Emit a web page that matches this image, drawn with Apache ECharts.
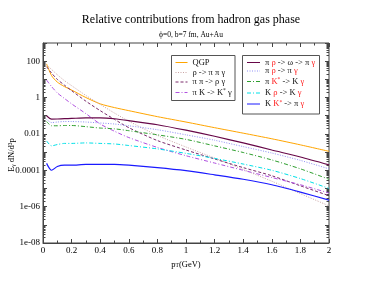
<!DOCTYPE html>
<html><head><meta charset="utf-8">
<script src="https://cdn.jsdelivr.net/npm/echarts@6/dist/echarts.min.js"></script>
<style>html,body{margin:0;padding:0;background:#fff}#c{width:371px;height:286px}</style>
</head><body><div id="c"></div>
<script>
// transverse momentum (GeV)
const pT = [0.025, 0.06, 0.1, 0.15, 0.2, 0.3, 0.4, 0.5, 0.6, 0.8, 1.0, 1.2, 1.4, 1.6, 1.8, 2.0];
// E dN/d^3p per channel
const qgp      = [71, 16, 7.1, 4.0, 2.6, 1.0, 0.45, 0.28, 0.19, 0.089, 0.045, 0.022, 0.011, 0.0054, 0.0025, 0.0011];
const rhoPiPi  = [63, 35, 18, 8.5, 4.5, 1.3, 0.42, 0.14, 0.05, 0.0083, 0.0019, 0.00047, 0.00011, 0.000025, 0.0000052, 0.0000011];
const piPiRho  = [50, 22, 10, 4.8, 2.4, 0.63, 0.19, 0.063, 0.022, 0.0043, 0.0013, 0.00042, 0.00014, 0.00005, 0.000014, 0.000004];
const piKKs    = [9.1, 4.0, 1.8, 0.89, 0.45, 0.13, 0.035, 0.014, 0.0063, 0.0018, 0.00063, 0.00025, 0.0001, 0.00004, 0.000016, 0.0000056];
const piRhoOm  = [0.10, 0.065, 0.066, 0.069, 0.071, 0.076, 0.076, 0.068, 0.054, 0.032, 0.016, 0.0074, 0.0032, 0.0013, 0.00054, 0.0002];
const piRhoPi  = [0.063, 0.042, 0.045, 0.048, 0.048, 0.045, 0.040, 0.035, 0.028, 0.017, 0.0089, 0.0045, 0.002, 0.00089, 0.00035, 0.00012];
const piKsK    = [0.048, 0.028, 0.028, 0.029, 0.029, 0.025, 0.021, 0.019, 0.015, 0.0089, 0.005, 0.0022, 0.00095, 0.00037, 0.00012, 0.000032];
const kRhoK    = [0.0041, 0.0022, 0.0026, 0.003, 0.003, 0.0032, 0.003, 0.0028, 0.0023, 0.0015, 0.00085, 0.00045, 0.00022, 0.0001, 0.000035, 0.00001];
const kKsPi    = [0.00024, 0.0001, 0.00016, 0.00019, 0.00019, 0.00021, 0.00021, 0.00021, 0.00019, 0.00014, 0.000095, 0.000056, 0.000032, 0.000016, 0.0000063, 0.0000023];

const seriesNames = ['QGP', 'ρ -> π π γ', 'π π -> ρ γ', 'π K -> K* γ',
  'π ρ -> ω -> π γ', 'π ρ -> π γ', 'π K* -> K γ', 'K ρ -> K γ', 'K K* -> π γ'];
const seriesData = [qgp, rhoPiPi, piPiRho, piKKs, piRhoOm, piRhoPi, piKsK, kRhoK, kKsPi];
const legendRich = {
  'QGP': 'QGP',
  'ρ -> π π γ': 'ρ -> π π γ',
  'π π -> ρ γ': 'π π -> ρ γ',
  'π K -> K* γ': 'π K -> K{sup|*} γ',
  'π ρ -> ω -> π γ': 'π {r|ρ} -> ω -> π {r|γ}',
  'π ρ -> π γ': 'π {r|ρ} -> π {r|γ}',
  'π K* -> K γ': 'π {r|K}{rs|*} -> K {r|γ}',
  'K ρ -> K γ': 'K {r|ρ} -> K {r|γ}',
  'K K* -> π γ': 'K {r|K}{rs|*} -> π {r|γ}'
};
const yLabelValues = [1e-8, 1e-6, 1e-4, 1e-2, 1, 100];
const yTickLabels = ['1e-08', '1e-06', '0.0001', '0.01', '1', '100'];

const styles = [
  {color: '#ffa500', type: 'solid', width: 1},
  {color: '#c9a3a3', type: [1, 1.5], width: 1},
  {color: '#7a2a6a', type: [3, 2], width: 1},
  {color: '#b050e0', type: [4, 2, 1, 2], width: 1},
  {color: '#670748', type: 'solid', width: 1.2},
  {color: '#8f8ff5', type: [1, 1.5], width: 1},
  {color: '#2f9f2f', type: [4, 2, 1, 2], width: 1},
  {color: '#00e0e8', type: [4, 2, 1, 2], width: 1},
  {color: '#1a1aff', type: 'solid', width: 1.2}
];

const majorY = [], minorY = [];
for (let e = -8; e <= 3; e++) {
  majorY.push(Math.pow(10, e));
  if (e < 3) for (let m = 2; m <= 9; m++) minorY.push(m * Math.pow(10, e));
}

const FONT = 'Liberation Serif';
const axisCol = '#444';
const series = seriesNames.map((n, i) => ({
  name: n, type: 'line', data: pT.map((x, j) => [x, seriesData[i][j]]),
  showSymbol: false, symbol: 'none', smooth: 0.25, lineStyle: styles[i],
  itemStyle: {color: styles[i].color}, silent: true, z: 3
}));

const legPos = [
  [175, 58], [175, 68], [175, 77.5], [175, 88],
  [246.5, 58], [246.5, 66.5], [246.5, 77], [246.5, 88.5], [246.5, 99.5]
];
const legends = seriesNames.map((n, i) => ({
  data: [n], left: legPos[i][0], top: legPos[i][1], padding: 0,
  itemWidth: i < 4 ? 12 : 13, itemHeight: 8, selectedMode: false,
  itemStyle: {opacity: 0, borderWidth: 0},
  lineStyle: {width: 1},
  formatter: (name) => legendRich[name],
  textStyle: {fontFamily: FONT, fontSize: 8.5, color: '#111',
    rich: {
      r: {fontFamily: FONT, fontSize: 8.5, color: '#ff2020'},
      sup: {fontFamily: FONT, fontSize: 5.5, color: '#111', verticalAlign: 'top'},
      rs: {fontFamily: FONT, fontSize: 5.5, color: '#ff2020', verticalAlign: 'top'}
    }}
}));

const chart = echarts.init(document.getElementById('c'), null, {renderer: 'canvas'});
chart.setOption({
  animation: false,
  backgroundColor: '#fff',
  title: [
    {text: 'Relative contributions from hadron gas phase', left: 186, top: 9, textAlign: 'center',
     textStyle: {fontFamily: FONT, fontSize: 12, fontWeight: 'normal', color: '#000'}},
    {text: 'ϕ=0, b=7 fm, Au+Au', left: 186, top: 26, textAlign: 'center',
     textStyle: {fontFamily: FONT, fontSize: 7.5, fontWeight: 'normal', color: '#000'}}
  ],
  grid: {left: 43, right: 42, top: 43, bottom: 43, show: true, borderColor: axisCol, borderWidth: 1},
  legend: legends,
  xAxis: [
    {type: 'value', min: 0, max: 2, interval: 0.2, position: 'bottom',
     axisLine: {show: true, lineStyle: {color: axisCol, width: 1}},
     axisTick: {inside: true, length: 4, lineStyle: {color: axisCol}},
     minorTick: {show: true, splitNumber: 2, length: 2.5, lineStyle: {color: axisCol}},
     axisLabel: {fontFamily: FONT, fontSize: 9, color: '#000', margin: 3},
     splitLine: {show: false},
     name: 'p{s|T}(GeV)', nameLocation: 'middle', nameGap: 8,
     nameTextStyle: {fontFamily: FONT, fontSize: 8.5, color: '#000',
       rich: {s: {fontFamily: FONT, fontSize: 5.5, color: '#000', verticalAlign: 'bottom', padding: [3, 0, 0, 0]}}}},
    {type: 'value', min: 0, max: 2, interval: 0.2, position: 'top',
     axisLine: {show: false},
     axisTick: {inside: true, length: 4, lineStyle: {color: axisCol}},
     minorTick: {show: true, splitNumber: 2, length: 2.5, lineStyle: {color: axisCol}},
     axisLabel: {show: false}, splitLine: {show: false}}
  ],
  yAxis: [
    {type: 'log', logBase: 10, min: 1e-8, max: 1000, position: 'left',
     axisLine: {show: true, lineStyle: {color: axisCol, width: 1}},
     axisTick: {inside: true, length: 4, customValues: majorY, lineStyle: {color: axisCol}},
     axisLabel: {customValues: yLabelValues, fontFamily: FONT, fontSize: 9, color: '#000', margin: 3,
       formatter: (v) => { const k = yLabelValues.findIndex(t => Math.abs(Math.log10(t) - Math.log10(v)) < 1e-6); return k >= 0 ? yTickLabels[k] : ''; }},
     splitLine: {show: false}},
    {type: 'log', logBase: 10, min: 1e-8, max: 1000, position: 'left',
     axisLine: {show: false},
     axisTick: {inside: true, length: 2.5, customValues: minorY, lineStyle: {color: axisCol}},
     axisLabel: {show: false}, splitLine: {show: false}},
    {type: 'log', logBase: 10, min: 1e-8, max: 1000, position: 'right',
     axisLine: {show: false},
     axisTick: {inside: true, length: 4, customValues: majorY, lineStyle: {color: axisCol}},
     axisLabel: {show: false}, splitLine: {show: false}},
    {type: 'log', logBase: 10, min: 1e-8, max: 1000, position: 'right',
     axisLine: {show: false},
     axisTick: {inside: true, length: 2.5, customValues: minorY, lineStyle: {color: axisCol}},
     axisLabel: {show: false}, splitLine: {show: false}}
  ],
  graphic: [
    {type: 'rect', shape: {x: 171.5, y: 55.5, width: 63.5, height: 45}, style: {fill: 'none', stroke: '#555', lineWidth: 1}, z: 10},
    {type: 'rect', shape: {x: 242.5, y: 55.5, width: 77, height: 58.5}, style: {fill: 'none', stroke: '#555', lineWidth: 1}, z: 10},
    {type: 'text', x: 12, y: 155, rotation: Math.PI / 2,
     style: {text: 'E{s|γ} dN/d{p|3}p', fill: '#000', font: '8.5px "Liberation Serif"', align: 'center', verticalAlign: 'middle',
       rich: {s: {fontSize: 5.5, fontFamily: FONT, verticalAlign: 'bottom', padding: [3, 0, 0, 0]},
              p: {fontSize: 5.5, fontFamily: FONT, verticalAlign: 'top'}}}}
  ],
  series: series
});
</script></body></html>
